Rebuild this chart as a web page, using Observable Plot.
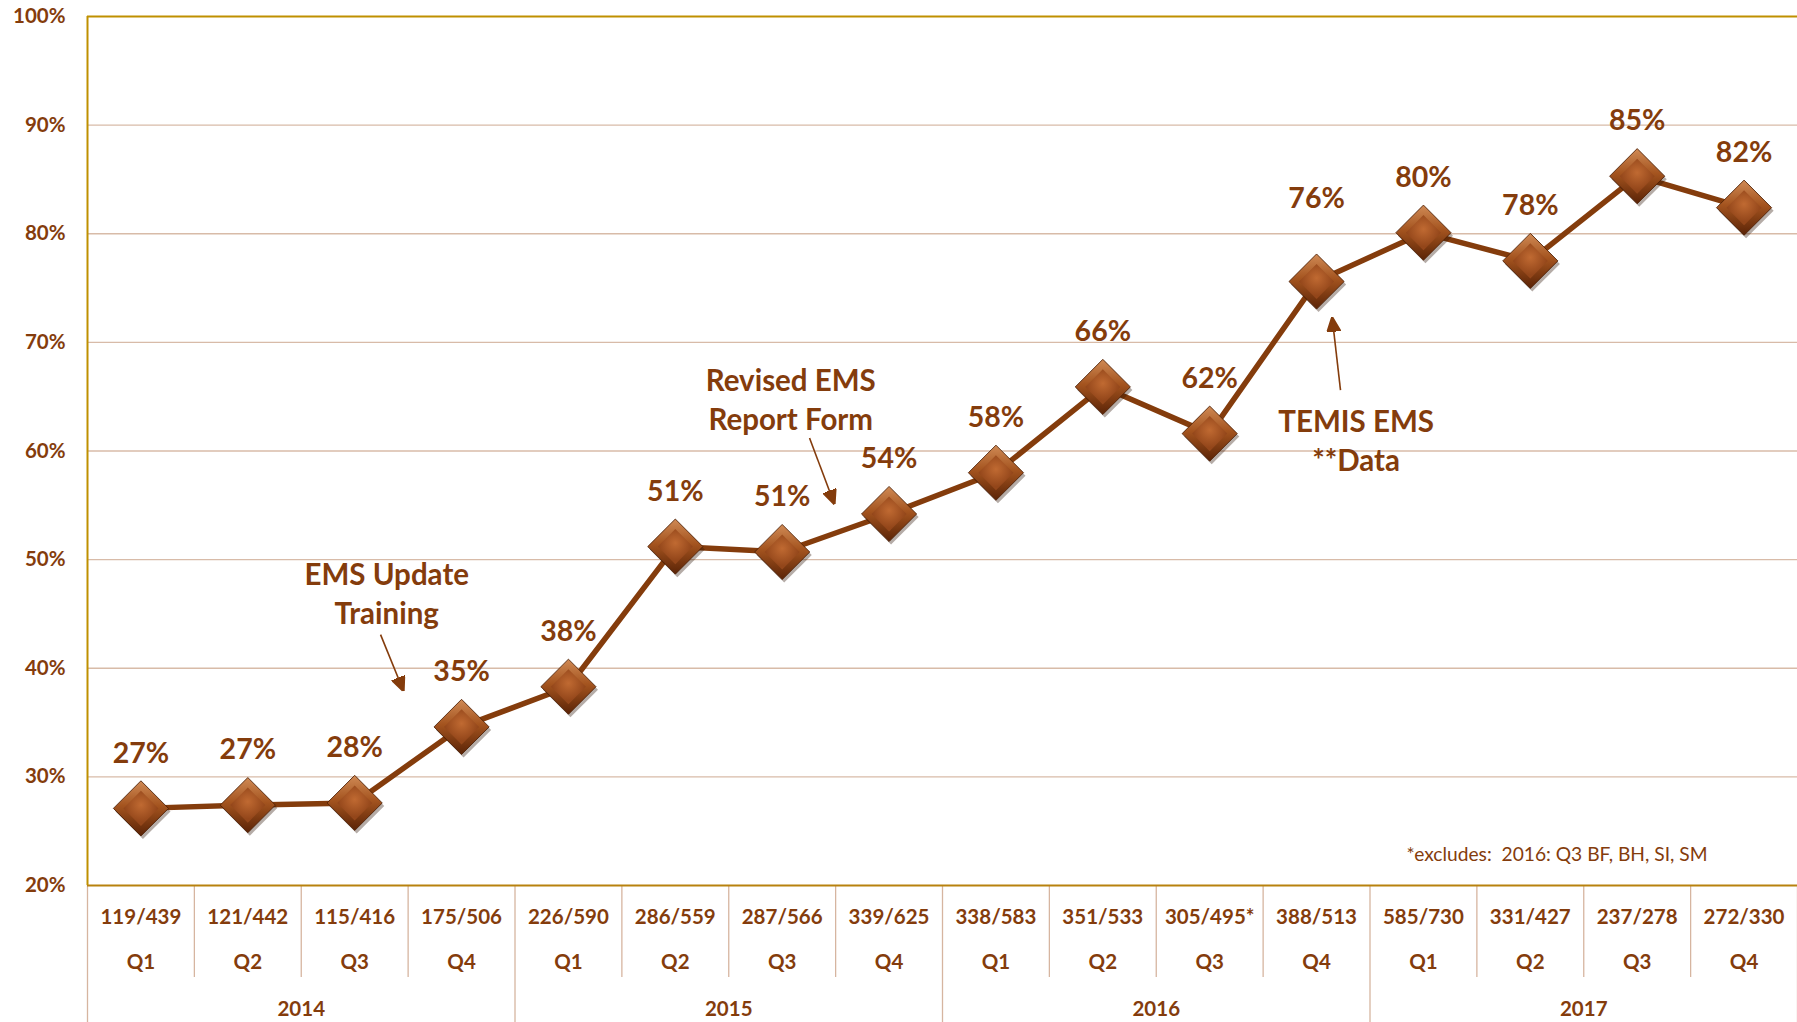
<!DOCTYPE html>
<html><head><meta charset="utf-8">
<script src="https://cdn.jsdelivr.net/npm/d3@7"></script>
<script src="https://cdn.jsdelivr.net/npm/@observablehq/plot@0.6"></script>
<style>
html,body{margin:0;padding:0;background:#fff;}
#chart{width:1797px;height:1022px;overflow:hidden;}
</style>
</head><body><div id="chart"></div>
<script>
// ---- data ----
const quarters = ["Q1","Q2","Q3","Q4","Q1","Q2","Q3","Q4","Q1","Q2","Q3","Q4","Q1","Q2","Q3","Q4"];
const years = ["2014","2015","2016","2017"];
const counts = ["119/439","121/442","115/416","175/506","226/590","286/559","287/566","339/625","338/583","351/533","305/495*","388/513","585/730","331/427","237/278","272/330"];
const rates = [27.1, 27.4, 27.6, 34.6, 38.3, 51.2, 50.7, 54.2, 58.0, 65.9, 61.6, 75.6, 80.1, 77.5, 85.3, 82.4];
const rateLabels = ["27%","27%","28%","35%","38%","51%","51%","54%","58%","66%","62%","76%","80%","78%","85%","82%"];
const yTicks = [20, 30, 40, 50, 60, 70, 80, 90, 100];
const noteText = ["EMS Update\nTraining", "Revised EMS\nReport Form", "TEMIS EMS\n**Data"];
const noteX = [2.30, 6.08, 11.37];
const noteY = [47.0, 64.9, 61.1];
const arrowX1 = [2.242, 6.256, 11.224];
const arrowY1 = [43.1, 61.2, 65.6];
const arrowX2 = [2.457, 6.489, 11.146];
const arrowY2 = [37.9, 55.1, 72.3];
const footnote = "*excludes:  2016: Q3 BF, BH, SI, SM";
const footX = 13.25, footY = 22.85;

// ---- derived tables ----
const idx = d3.range(rates.length);
const points = idx.map(i => ({i, rate: rates[i], label: rateLabels[i]}));
const quarterEdges = d3.range(-0.5, rates.length, 1).filter(e => !((e + 0.5) % 4 === 0));
const yearEdges = d3.range(-0.5, rates.length + 0.5, 4);
const yearCenters = years.map((y, k) => k * 4 + 1.5);
const notes = noteText.map((t, k) => ({t, x: noteX[k], y: noteY[k]}));
const arrows = arrowX1.map((x, k) => ({x1: x, y1: arrowY1[k], x2: arrowX2[k], y2: arrowY2[k]}));

const brown = "#843C0C";
const gold = "#BF9000";
const grid = "#D8BBA8";
const divider = "#D6B5A0";
const font = "Lato, 'Open Sans', sans-serif";

function filledArrow(color, context) {
  const doc = context && context.document ? context.document : document;
  const m = doc.createElementNS("http://www.w3.org/2000/svg", "marker");
  m.setAttribute("viewBox", "-10 -5 10 10");
  m.setAttribute("markerWidth", "9");
  m.setAttribute("markerHeight", "9");
  m.setAttribute("markerUnits", "strokeWidth");
  m.setAttribute("orient", "auto");
  m.setAttribute("refX", "0");
  m.setAttribute("refY", "0");
  const p = doc.createElementNS("http://www.w3.org/2000/svg", "path");
  p.setAttribute("d", "M-10,-4.5L0,0L-10,4.5Z");
  p.setAttribute("fill", color);
  m.appendChild(p);
  return m;
}

const plot = Plot.plot({
  width: 1797,
  height: 1022,
  marginTop: 16,
  marginBottom: 137,
  marginLeft: 87,
  marginRight: 0,
  style: {fontFamily: font, color: brown, background: "#fff", overflow: "visible"},
  x: {domain: [-0.5, rates.length - 0.5], axis: null},
  y: {domain: [20, 100], axis: null},
  marks: [
    Plot.ruleY(yTicks.filter(t => t > 20 && t < 100), {stroke: grid, strokeWidth: 1.3}),
    // bottom table
    Plot.axisX({ticks: quarterEdges, tickSize: 92, tickFormat: () => "", stroke: divider, strokeWidth: 1.3}),
    Plot.axisX({ticks: yearEdges, tickSize: 137, tickFormat: () => "", stroke: divider, strokeWidth: 1.3}),
    Plot.axisX({ticks: idx, tickSize: 0, tickPadding: 24, tickFormat: i => counts[i], fontSize: 20.5, fontWeight: "bold", fill: brown}),
    Plot.axisX({ticks: idx, tickSize: 0, tickPadding: 69, tickFormat: i => quarters[i], fontSize: 20.5, fontWeight: "bold", fill: brown}),
    Plot.axisX({ticks: yearCenters, tickSize: 0, tickPadding: 116, tickFormat: (d, k) => years[k], fontSize: 20.5, fontWeight: "bold", fill: brown}),
    Plot.axisY({ticks: yTicks, tickSize: 0, tickPadding: 22, tickFormat: d => d + "%", fontSize: 20.5, fontWeight: "bold", fill: brown}),
    // frame
    Plot.ruleY([100], {stroke: gold, strokeWidth: 2}),
    Plot.ruleY([20], {stroke: "#B8820E", strokeWidth: 2}),
    Plot.ruleX([-0.5], {stroke: gold, strokeWidth: 2}),
    // series
    Plot.line(points, {x: "i", y: "rate", stroke: brown, strokeWidth: 5.5}),
    Plot.dot(points, {x: "i", y: "rate", symbol: "square", rotate: 45, r: 22, fill: "#2a1002", fillOpacity: 0.35, dx: 2, dy: 3}),
    Plot.dot(points, {x: "i", y: "rate", symbol: "square", rotate: 45, r: 22, fill: "url(#gOuter)", stroke: "#4a1d04", strokeWidth: 0.8}),
    Plot.dot(points, {x: "i", y: "rate", symbol: "square", rotate: 45, r: 14, fill: "url(#gInner)"}),
    Plot.text(points.filter(p => p.i !== 11), {x: "i", y: "rate", text: "label", dy: -55, fontSize: 28.5, fontWeight: "bold", fill: brown}),
    Plot.text(points.filter(p => p.i === 11), {x: "i", y: "rate", text: "label", dy: -83, fontSize: 28.5, fontWeight: "bold", fill: brown}),
    // annotations
    Plot.text(notes, {x: "x", y: "y", text: "t", fontSize: 29.5, fontWeight: "bold", fill: brown, lineHeight: 1.33}),
    Plot.link(arrows, {x1: "x1", y1: "y1", x2: "x2", y2: "y2", stroke: brown, strokeWidth: 1.6, markerEnd: filledArrow}),
    Plot.text([footnote], {x: () => footX, y: () => footY, text: d => d, fontSize: 19.2, fill: brown, fontWeight: "normal"})
  ]
});

plot.insertAdjacentHTML("afterbegin", `<defs>
  <linearGradient id="gOuter" x1="0" y1="0" x2="1" y2="1">
    <stop offset="0" stop-color="#D08A55"/>
    <stop offset="0.45" stop-color="#A4541F"/>
    <stop offset="1" stop-color="#5A2306"/>
  </linearGradient>
  <radialGradient id="gInner" cx="0.4" cy="0.4" r="0.7">
    <stop offset="0" stop-color="#C06A32"/>
    <stop offset="1" stop-color="#93461A"/>
  </radialGradient>
</defs>`);

document.getElementById("chart").appendChild(plot);
</script>
</body></html>
